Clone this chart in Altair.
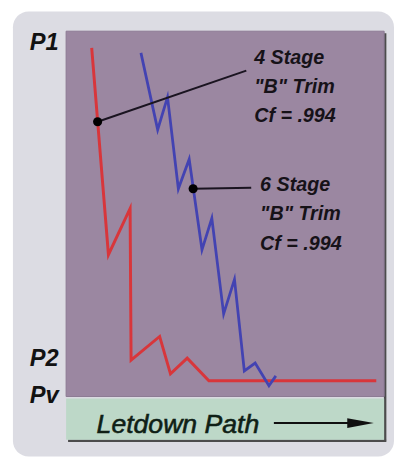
import altair as alt
import pandas as pd

# Letdown paths: x = position along the letdown path, y = pressure
red_x = [26, 43, 65, 66, 95, 106, 123, 145, 315]
red_y = [401, 191, 238, 84, 108, 70, 86, 63, 63]
blue_x = [76, 93, 103, 114, 125, 138, 148, 160, 171, 181, 192, 206, 213]
blue_y = [396, 318, 351, 258, 288, 196, 228, 131, 166, 73, 81, 58, 68]

# Callouts
callout_dot_x = [32, 129]
callout_dot_y = [326, 258]
callout_end_x = [183, 188]
callout_end_y = [378, 259]
callout_text_x = [191, 197]
callout_lines = [["4 Stage", '"B" Trim', "Cf = .994"],
                 ["6 Stage", '"B" Trim', "Cf = .994"]]
callout_baselines = [[385, 355, 326], [256, 226, 196]]

# Pressure labels on the vertical axis
y_label_values = [399, 78, 41]
y_label_texts = ["P1", "P2", "Pv"]

x_title = "Letdown Path"

FONT = "Liberation Sans, Arial, sans-serif"
W, H = 325, 418
xs = alt.Scale(domain=[0, 325], nice=False, zero=False)
ys = alt.Scale(domain=[0, 418], nice=False, zero=False)

one = pd.DataFrame({"a": [0]})

red_df = pd.DataFrame({"x": red_x, "y": red_y, "i": range(len(red_x))})
blue_df = pd.DataFrame({"x": blue_x, "y": blue_y, "i": range(len(blue_x))})
call_df = pd.DataFrame({"x": callout_dot_x, "y": callout_dot_y,
                        "x2": callout_end_x, "y2": callout_end_y})
txt_rows = []
for k in range(len(callout_lines)):
    for line, b in zip(callout_lines[k], callout_baselines[k]):
        txt_rows.append({"x": callout_text_x[k], "y": b, "t": line})
txt_df = pd.DataFrame(txt_rows)

label_expr = " : ".join(
    f"datum.value == {v} ? '{t}'" for v, t in zip(y_label_values[:-1], y_label_texts[:-1])
) + f" : '{y_label_texts[-1]}'"

panel = alt.Chart(one).mark_rect(fill="#dcdce3", cornerRadius=16).encode(
    x=alt.value(-54), x2=alt.value(333), y=alt.value(-20), y2=alt.value(432))
shadow_r = alt.Chart(one).mark_rule(color="#4c4c4c", strokeWidth=2.5).encode(
    x=alt.value(324), y=alt.value(2), y2=alt.value(417))
shadow_b = alt.Chart(one).mark_rule(color="#4c4c4c", strokeWidth=2.5).encode(
    x=alt.value(2), x2=alt.value(325), y=alt.value(416))
purple = alt.Chart(one).mark_rect(fill="#9b87a1", stroke="#8c7a93", strokeWidth=1).encode(
    x=alt.value(0), x2=alt.value(323), y=alt.value(0), y2=alt.value(371))
green = alt.Chart(one).mark_rect(fill="#bdd8c8").encode(
    x=alt.value(0), x2=alt.value(323), y=alt.value(373), y2=alt.value(415))

red = alt.Chart(red_df).mark_line(color="#d8363b", strokeWidth=3, strokeJoin="miter",
                                  strokeMiterLimit=5).encode(
    x=alt.X("x:Q", scale=xs, axis=None),
    y=alt.Y("y:Q", scale=ys, axis=alt.Axis(
        values=y_label_values, labelExpr=label_expr, title=None,
        domain=False, ticks=False, tickSize=0, grid=False, zindex=2,
        labelFont=FONT, labelFontSize=24, labelFontWeight="bold",
        labelFontStyle="italic", labelColor="#121212", labelPadding=8,
        labelBaseline="alphabetic", labelAlign="right")),
    order="i:O")
blue = alt.Chart(blue_df).mark_line(color="#4343b2", strokeWidth=2.8, strokeJoin="miter",
                                    strokeMiterLimit=5).encode(
    x=alt.X("x:Q", scale=xs), y=alt.Y("y:Q", scale=ys), order="i:O")

leaders = alt.Chart(call_df).mark_rule(color="#1a1420", strokeWidth=2).encode(
    x=alt.X("x:Q", scale=xs), y=alt.Y("y:Q", scale=ys), x2="x2:Q", y2="y2:Q")
dots = alt.Chart(call_df).mark_circle(color="#000000", opacity=1, size=85).encode(
    x=alt.X("x:Q", scale=xs), y=alt.Y("y:Q", scale=ys))
texts = alt.Chart(txt_df).mark_text(
    font=FONT, fontSize=20, fontWeight="bold", fontStyle="italic",
    align="left", baseline="alphabetic", color="#161218").encode(
    x=alt.X("x:Q", scale=xs), y=alt.Y("y:Q", scale=ys), text="t:N")

xtitle = alt.Chart(one).mark_text(
    font=FONT, fontSize=27, fontStyle="italic", align="left", baseline="alphabetic",
    color="#0f1f16", stroke="#0f1f16", strokeWidth=0.6).encode(
    x=alt.value(31), y=alt.value(408), text=alt.value(x_title))
arrow_line = alt.Chart(one).mark_rule(color="#101010", strokeWidth=2).encode(
    x=alt.value(211), x2=alt.value(295), y=alt.value(398))
arrow_head = alt.Chart(one).mark_point(
    shape="M -1 -0.36 L 1 0 L -1 0.36 Z", filled=True, color="#101010",
    opacity=1, size=729).encode(x=alt.value(299), y=alt.value(398))

chart = alt.layer(
    panel, shadow_r, shadow_b, purple, green, red, blue, leaders, dots, texts,
    xtitle, arrow_line, arrow_head
).properties(
    width=W, height=H, autosize="none",
    padding={"left": 59, "top": 20, "right": 8, "bottom": 20},
    background="#ffffff",
).configure_view(strokeWidth=0)

chart.save("out.html", embed_options={"renderer": "svg", "actions": False})
